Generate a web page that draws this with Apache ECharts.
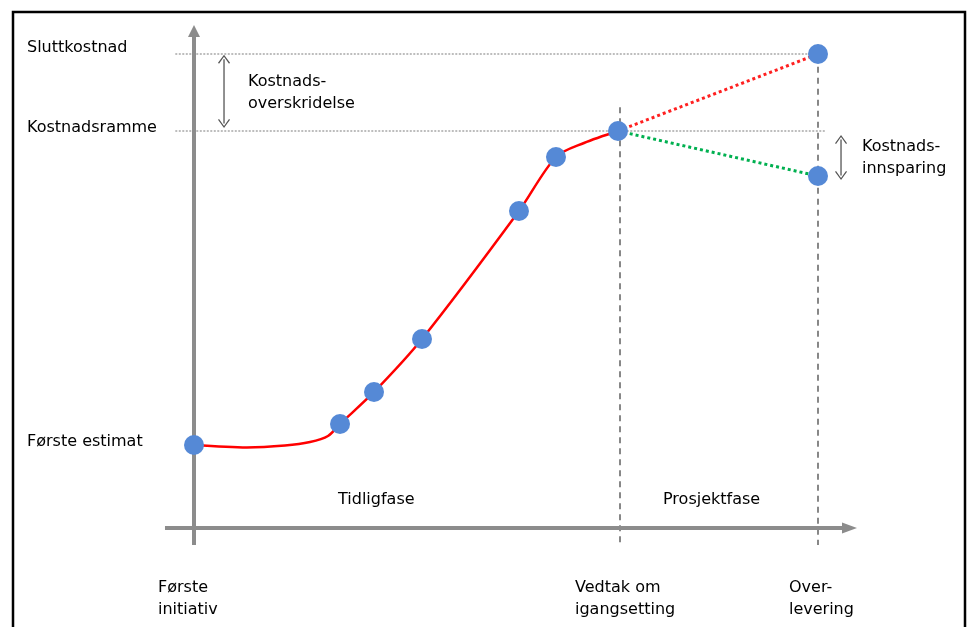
<!DOCTYPE html>
<html>
<head>
<meta charset="utf-8">
<style>html,body{margin:0;padding:0;background:#fff}#c{width:972px;height:627px}</style>
<script src="https://cdn.jsdelivr.net/npm/echarts@6/dist/echarts.min.js"></script>
</head>
<body>
<div id="c"></div>
<script>
// ---- data (x: time units, y: cost units) ----
const curveX = [0, 8.49, 14.58, 18.59, 21.47, 23.40, 28.85, 36.54, 52.08, 58.01, 62.50, 67.95];
const curveY = [20.9, 20.28, 20.78, 21.66, 23.17, 26.20, 34.26, 47.61, 79.85, 93.45, 96.98, 100.0];
const markerX = [0, 23.40, 28.85, 36.54, 52.08, 58.01, 67.95, 100, 100];
const markerY = [20.9, 26.20, 34.26, 47.61, 79.85, 93.45, 100.0, 119.4, 88.66];
const overrunX = [67.95, 100];
const overrunY = [100.0, 119.4];
const savingX = [67.95, 100];
const savingY = [100.0, 88.66];
const sluttkostnad = 119.4;
const kostnadsramme = 100.0;
const decisionX = 68.27;
const handoverX = 100;
const labelTexts = ['Sluttkostnad', 'Kostnadsramme', 'Første estimat', 'Kostnads-\noverskridelse', 'Kostnads-\ninnsparing', 'Tidligfase', 'Prosjektfase', 'Første\ninitiativ', 'Vedtak om\nigangsetting', 'Over-\nlevering'];
const labelX = [-26.76, -26.76, -26.76, 8.65, 107.05, 23.08, 75.16, -5.77, 61.06, 95.35];
const labelY = [120.9, 100.8, 21.7, 109.7, 93.2, 7.05, 7.05, -17.76, -17.76, -17.76];

const zip = (xs, ys) => xs.map((x, i) => [x, ys[i]]);
const chart = echarts.init(document.getElementById('c'), null, {renderer: 'canvas'});
const FONT = 'DejaVu Sans';
const chevron = 'path://M0,8 L6,0 L12,8 L11,8.8 L6,2 L1,8.8 Z';

function seg(pts, color, width, type, extra) {
  return Object.assign({
    type: 'line', data: pts, symbol: 'none', silent: true, animation: false,
    lineStyle: {color: color, width: width, type: type, cap: 'butt'},
    itemStyle: {color: color}, z: 1
  }, extra || {});
}

const option = {
  animation: false,
  backgroundColor: '#fff',
  grid: {left: 0, right: 0, top: 0, bottom: 0},
  xAxis: {type: 'value', min: -31.09, max: 124.68, show: false},
  yAxis: {type: 'value', min: -24.94, max: 133.0, show: false},
  graphic: [{
    type: 'rect', shape: {x: 13, y: 12, width: 952, height: 640},
    style: {fill: 'none', stroke: '#000', lineWidth: 2.5}, z: 100
  }],
  series: [
    // reference lines
    seg([[-3.0, sluttkostnad], [handoverX, sluttkostnad]], '#a8a8a8', 1.5, [2, 1.5]),
    seg([[-3.0, kostnadsramme], [101.3, kostnadsramme]], '#a8a8a8', 1.5, [2, 1.5]),
    seg([[decisionX, 106.0], [decisionX, -4.28]], '#555', 1.4, [6, 5]),
    seg([[handoverX, 121.7], [handoverX, -4.28]], '#555', 1.4, [6, 5]),
    // axes
    seg([[-4.65, 0], {value: [105.05, 0], symbol: 'triangle', symbolSize: [11, 15], symbolRotate: -90}], '#8c8c8c', 4, 'solid', {z: 2}),
    seg([[0, -4.28], {value: [0, 125.19], symbol: 'triangle', symbolSize: [12, 12], symbolRotate: 0}], '#8c8c8c', 4, 'solid', {z: 2}),
    // double arrows
    seg([{value: [4.81, 118.1], symbol: chevron, symbolSize: [12, 9], symbolRotate: 0},
         {value: [4.81, 101.9], symbol: chevron, symbolSize: [12, 9], symbolRotate: 180}], '#555', 1.3, 'solid'),
    seg([{value: [103.69, 97.86], symbol: chevron, symbolSize: [12, 9], symbolRotate: 0},
         {value: [103.69, 88.79], symbol: chevron, symbolSize: [12, 9], symbolRotate: 180}], '#555', 1.3, 'solid'),
    // cost curve
    seg(zip(curveX, curveY), '#ff0000', 2.5, 'solid', {smooth: 0.3, z: 3}),
    seg(zip(overrunX, overrunY), '#ff2020', 3, [3, 3], {z: 3}),
    seg(zip(savingX, savingY), '#00b050', 3, [3, 3], {z: 3}),
    // markers
    {
      type: 'scatter', data: zip(markerX, markerY), symbol: 'circle', symbolSize: 20,
      itemStyle: {color: '#5589d6', opacity: 1}, silent: true, z: 5, animation: false
    },
    // text labels
    {
      type: 'scatter', silent: true, animation: false, clip: false, z: 6,
      symbolSize: 1, itemStyle: {color: 'rgba(0,0,0,0)'},
      data: labelTexts.map((t, i) => ({value: [labelX[i], labelY[i]], name: t})),
      label: {
        show: true, position: 'inside', align: 'left', verticalAlign: 'middle',
        formatter: p => p.name, color: '#000', opacity: 1, fontFamily: FONT, fontSize: 16, lineHeight: 22
      }
    }
  ]
};
chart.setOption(option);
</script>
</body>
</html>
